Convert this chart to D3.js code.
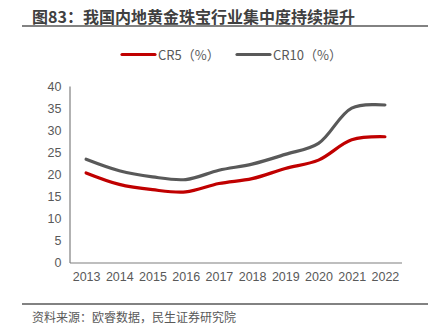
<!DOCTYPE html>
<html>
<head>
<meta charset="utf-8">
<script src="https://cdn.jsdelivr.net/npm/d3@7"></script>
<style>
  body { margin: 0; background: #fff; }
  svg { display: block; font-family: "Noto Sans CJK SC", "Noto Sans", sans-serif; }
</style>
</head>
<body>
<svg width="436" height="333"></svg>
<script>
const years = ["2013", "2014", "2015", "2016", "2017", "2018", "2019", "2020", "2021", "2022"];
const cr5 = [20.3, 17.7, 16.5, 16.0, 17.9, 19.0, 21.3, 23.2, 27.8, 28.5];
const cr10 = [23.4, 20.8, 19.4, 18.8, 20.9, 22.3, 24.5, 27.0, 35.0, 35.7];
const yTicks = [0, 5, 10, 15, 20, 25, 30, 35, 40];

const svg = d3.select("svg");

// title and rules
svg.append("text")
    .attr("x", 32).attr("y", 23)
    .attr("font-size", "16px")
    .attr("font-weight", "bold")
    .attr("fill", "#404040")
    .text("图83：我国内地黄金珠宝行业集中度持续提升");
svg.append("line")
    .attr("x1", 22).attr("x2", 428).attr("y1", 26).attr("y2", 26)
    .attr("stroke", "#595959").attr("stroke-width", 1.5);
svg.append("line")
    .attr("x1", 22).attr("x2", 428).attr("y1", 304).attr("y2", 304)
    .attr("stroke", "#595959").attr("stroke-width", 1.5);
svg.append("text")
    .attr("x", 32).attr("y", 321.5)
    .attr("font-size", "12px")
    .attr("fill", "#595959")
    .text("资料来源：欧睿数据，民生证券研究院");

// scales
let x = d3.scalePoint().domain(years).range([69.5, 401.5]).padding(0.5);
let y = d3.scaleLinear().domain([0, 40]).range([262.5, 86]);

// axes
let yAxis = svg.append("g")
    .attr("transform", "translate(69.5,0)")
    .call(d3.axisLeft(y).tickValues(yTicks).tickSize(0).tickPadding(8));
yAxis.select(".domain").attr("stroke", "#7f7f7f").attr("stroke-width", 1.2);
yAxis.selectAll("text").attr("font-size", "12.5px").attr("fill", "#595959").attr("font-family", "inherit");

let xAxis = svg.append("g")
    .attr("transform", "translate(0,262.5)")
    .call(d3.axisBottom(x).tickSize(0).tickPadding(10).tickSizeOuter(0));
xAxis.select(".domain").attr("stroke", "#7f7f7f").attr("stroke-width", 1.2);
xAxis.selectAll("text").attr("font-size", "12.5px").attr("fill", "#595959").attr("font-family", "inherit");

// lines
const series = [
    { name: "CR5（%）", values: cr5, color: "#c00000" },
    { name: "CR10（%）", values: cr10, color: "#595959" }
];
let line = d3.line()
    .x((d, i) => x(years[i]))
    .y(d => y(d))
    .curve(d3.curveCatmullRom.alpha(0.5));

series.forEach(function(s) {
    svg.append("path")
        .datum(s.values)
        .attr("d", line)
        .attr("fill", "none")
        .attr("stroke", s.color)
        .attr("stroke-width", 3.2)
        .attr("stroke-linecap", "round");
});

// legend
const legendX = [122, 237];
series.forEach(function(s, i) {
    svg.append("line")
        .attr("x1", legendX[i]).attr("x2", legendX[i] + 33)
        .attr("y1", 54.5).attr("y2", 54.5)
        .attr("stroke", s.color).attr("stroke-width", 3.2)
        .attr("stroke-linecap", "round");
    svg.append("text")
        .attr("x", legendX[i] + 36).attr("y", 59.5)
        .attr("font-size", "13px")
        .attr("fill", "#595959")
        .text(s.name);
});
</script>
</body>
</html>
